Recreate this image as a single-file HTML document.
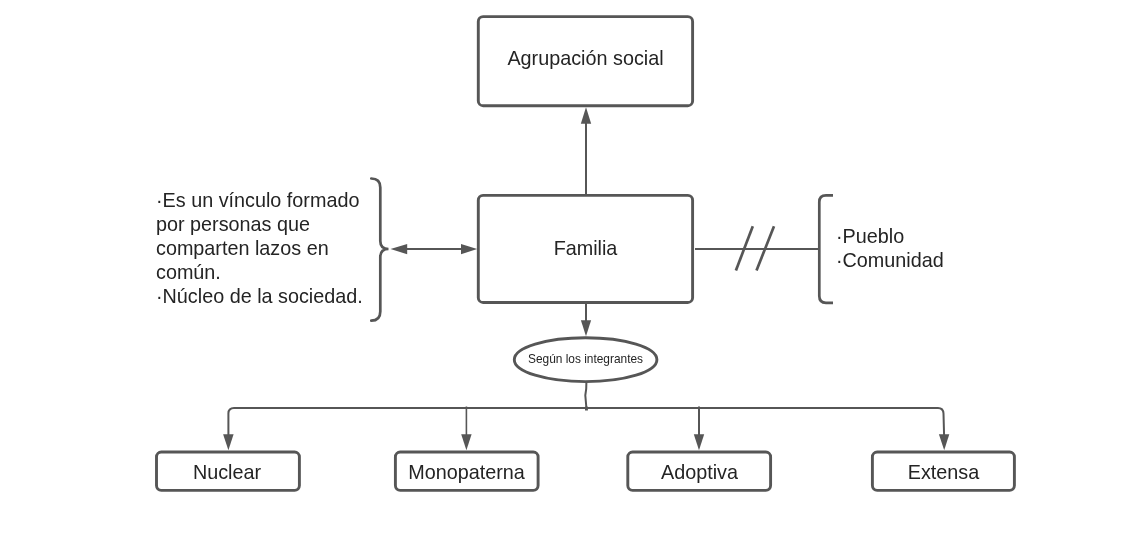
<!DOCTYPE html>
<html><head><meta charset="utf-8">
<style>
html,body{margin:0;padding:0;background:#fff;}
body{width:1138px;height:535px;overflow:hidden;position:relative;font-family:"Liberation Sans",sans-serif;}
svg{position:absolute;left:0;top:0;}
.t{will-change:transform;position:absolute;white-space:nowrap;font-size:19.8px;line-height:24px;color:#242424;}
.c{text-align:center;}
</style></head><body>
<svg width="1138" height="535" viewBox="0 0 1138 535">
<g fill="#fff" stroke="#565656" stroke-width="2.900">
<rect x="478.300" y="16.650" width="214.300" height="89.050" rx="4.800" ry="4.800"/>
<rect x="478.300" y="195.400" width="214.300" height="107.100" rx="4.800" ry="4.800"/>
<rect x="156.500" y="452" width="142.900" height="38.400" rx="4.800" ry="4.800"/>
<rect x="395.400" y="452" width="142.700" height="38.400" rx="4.800" ry="4.800"/>
<rect x="627.800" y="452" width="142.800" height="38.400" rx="4.800" ry="4.800"/>
<rect x="872.400" y="452" width="142" height="38.400" rx="4.800" ry="4.800"/>
<ellipse cx="585.600" cy="359.700" rx="71.300" ry="21.900"/>
</g>
<g fill="none" stroke="#565656" stroke-width="2">
<path d="M586 194 V122"/>
<path d="M405 249 H463"/>
<path d="M695 249 H819"/>
<path d="M586 304 V322"/>
<path d="M586.400 382 L586.200 389 L585.300 395.300 L586.400 408"/>
<path d="M228.400 436 V413.500 Q228.400 408 234 408 H938 Q943.200 408 943.500 413.500 L944.100 436"/>
<path d="M699 406.500 V436"/>
</g>
<path d="M466.400 406.500 V436" fill="none" stroke="#565656" stroke-width="1.600"/>
<g fill="none" stroke="#565656" stroke-width="2.700">
<path d="M752.800 226.300 L735.900 270.400"/>
<path d="M774 226.300 L756.500 270.400"/>
<path d="M833 195.300 H826 Q819.300 195.300 819.300 202 V296 Q819.300 302.800 826 302.800 H833"/>
<path d="M371.300 178.500 Q380.300 178.500 380.300 187.500 V241 Q380.300 249 388.500 249 Q380.300 249 380.300 257 V311.500 Q380.300 320.700 371.300 320.700" stroke-linecap="round"/>
</g>
<g fill="#565656" stroke="none">
<rect x="585" y="406.600" width="2.900" height="3.900"/>
<path d="M586 107.300 L591.200 123.800 H580.800 Z"/>
<path d="M390.500 249.100 L407.200 243.900 V254.300 Z"/>
<path d="M477.200 249.100 L461 243.900 V254.300 Z"/>
<path d="M586 336.200 L580.900 320.200 H591.100 Z"/>
<path d="M228.400 450.300 L223.100 434.200 H233.600 Z"/>
<path d="M466.400 450.300 L461.200 434.200 H471.600 Z"/>
<path d="M699 450.300 L693.800 434.200 H704.200 Z"/>
<path d="M944.200 450.300 L938.900 434.200 H949.300 Z"/>
</g>
</svg>
<div class="t c" style="left:478px;width:215px;top:46px;">Agrupación social</div>
<div class="t c" style="left:478px;width:215px;top:236px;">Familia</div>
<div class="t" style="left:156px;top:188px;">·Es un vínculo formado<br>por personas que<br>comparten lazos en<br>común.<br>·Núcleo de la sociedad.</div>
<div class="t" style="left:835.800px;top:224px;">·Pueblo<br>·Comunidad</div>
<div class="t c" style="left:513px;width:145px;top:347px;font-size:11.900px;">Según los integrantes</div>
<div class="t c" style="left:155px;width:144px;top:460px;">Nuclear</div>
<div class="t c" style="left:395px;width:143px;top:460px;">Monopaterna</div>
<div class="t c" style="left:628px;width:143px;top:460px;">Adoptiva</div>
<div class="t c" style="left:872px;width:143px;top:460px;">Extensa</div>
</body></html>
